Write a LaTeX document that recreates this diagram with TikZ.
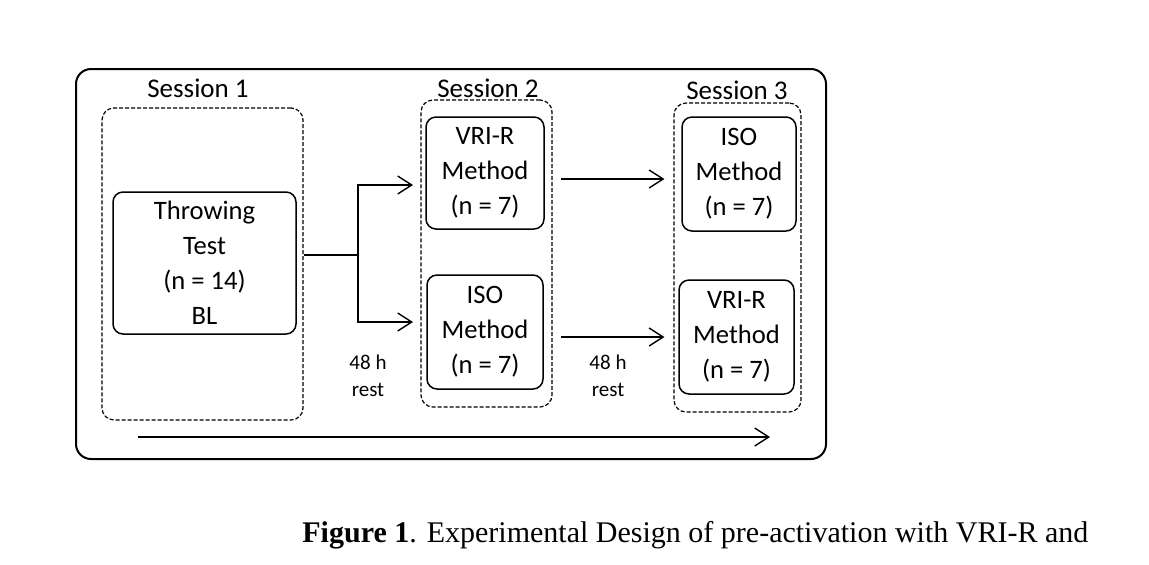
\documentclass[tikz,border=0pt]{standalone}
\usepackage{fontspec}
\setmainfont{Carlito}
\newfontfamily\capfont{Liberation Serif}
\usetikzlibrary{positioning, arrows.meta}
\tikzset{
  blok/.style={draw, rounded corners=5pt, line width=0.75pt, inner sep=0pt,
               align=center, font=\fontsize{13.3}{17.5}\selectfont},
  grp/.style={draw, dash pattern=on 2pt off 1pt, rounded corners=6pt,
              line width=0.6pt, inner sep=0pt},
  lab/.style={font=\fontsize{13.5}{16}\selectfont, inner sep=0pt},
  note/.style={font=\fontsize{10.5}{13.5}\selectfont, align=center, inner sep=0pt},
  flow/.style={-{Straight Barb[length=7pt,width=9pt]}, line width=0.7pt},
}

\begin{document}
\begin{tikzpicture}[x=0.5pt, y=-0.5pt]
  \fill[white] (0,0) rectangle (1149,564);
  \useasboundingbox (0,0) rectangle (1149,564);

  % outer frame
  \node[draw, rounded corners=7.5pt, line width=1pt, minimum width=375pt,
        minimum height=195pt] (frame) at (451,264) {};

  % sessions
  \node[grp, minimum width=100.5pt, minimum height=156pt] (sess1) at (202.5,264) {};
  \node[grp, minimum width=65.5pt, minimum height=153.5pt] (sess2) at (486.5,253.5) {};
  \node[grp, minimum width=63.5pt, minimum height=154.5pt] (sess3) at (737.5,257.5) {};
  \node[lab] (lab1) at (198,88) {Session 1};
  \node[lab] (lab2) at (488,88) {Session 2};
  \node[lab] (lab3) at (737,90) {Session 3};

  % groups
  \node[blok, minimum width=91.5pt, minimum height=71pt] (throw) at (204.5,263)
    {Throwing\\Test\\(n = 14)\\BL};
  \node[blok, minimum width=59pt, minimum height=56pt] (vri2) at (485,173)
    {VRI-R\\Method\\(n = 7)};
  \node[blok, minimum width=58pt, minimum height=57pt] (iso2) at (485,332)
    {ISO\\Method\\(n = 7)};
  \node[blok, minimum width=57pt, minimum height=57pt] (iso3) at (739,174)
    {ISO\\Method\\(n = 7)};
  \node[blok, minimum width=57.5pt, minimum height=57pt] (vri3) at (736.5,337)
    {VRI-R\\Method\\(n = 7)};

  \node[note] (rest1) at (368,376) {48 h\\rest};
  \node[note] (rest2) at (608,376) {48 h\\rest};

  % connectors
  \coordinate (split) at (358,255);
  \coordinate (up) at (413,185);
  \coordinate (down) at (413,322);
  \draw[line width=0.7pt] (sess1.east |- split) -- (split);
  \draw[flow] (split) |- (up);
  \draw[flow] (split) |- (down);
  \draw[flow] ([xshift=4pt]sess2.east |- 0,179) -- ([xshift=-4.5pt]sess3.west |- 0,179);
  \draw[flow] ([xshift=4pt]sess2.east |- 0,337) -- ([xshift=-4.5pt]sess3.west |- 0,337);

  % time line
  \coordinate (t0) at (138,437);
  \coordinate (t1) at (770,437);
  \draw[flow] (t0) -- (t1);

  \node[anchor=base west, inner sep=0pt, font=\capfont\fontsize{15}{18}\selectfont]
    (cap) at (302,542) {\textbf{Figure 1}. Experimental Design of pre-activation with VRI-R and};
\end{tikzpicture}
\end{document}
